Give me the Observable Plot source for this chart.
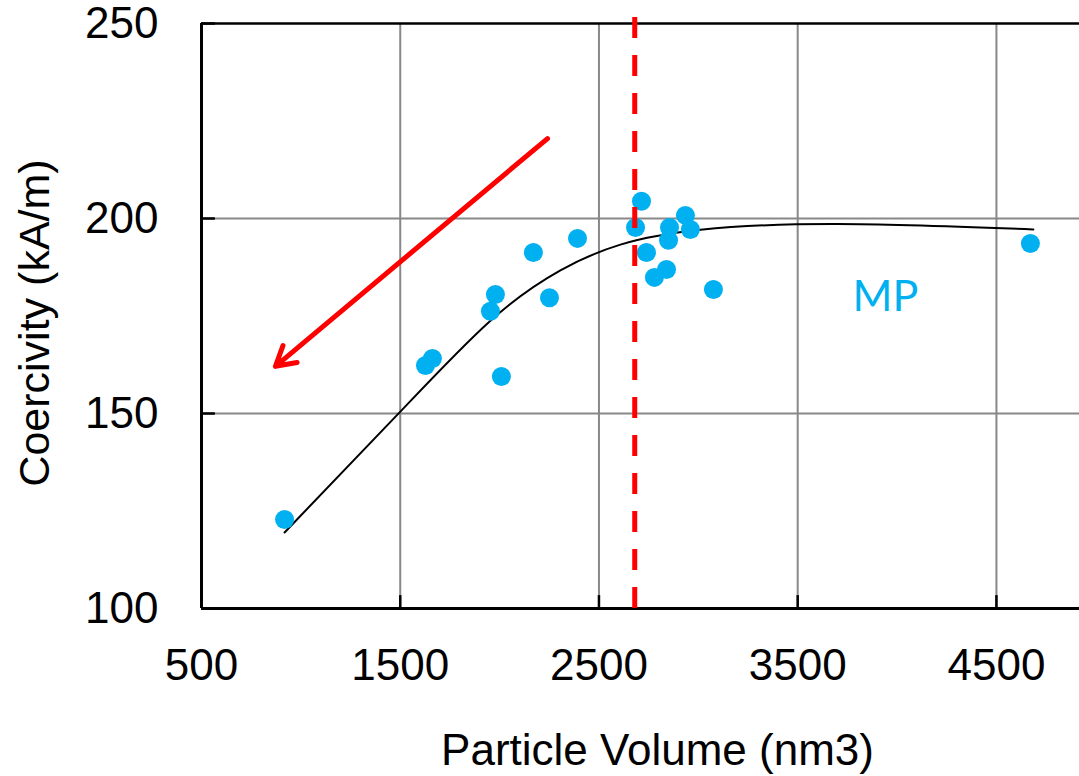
<!DOCTYPE html>
<html>
<head>
<meta charset="utf-8">
<script src="https://cdn.jsdelivr.net/npm/d3@7"></script>
<script src="https://cdn.jsdelivr.net/npm/@observablehq/plot@0.6"></script>
<style>
  html, body { margin: 0; padding: 0; background: #fff; }
</style>
</head>
<body>
<div id="chart"></div>
<script>
// Measured points (Particle Volume nm3, Coercivity kA/m)
const volume = [918, 1627, 1662, 1954, 1979, 2009, 2170, 2251, 2392, 2714, 2684, 2739, 2855, 2850, 2935, 2960, 2779, 2840, 3076, 4671];
const coercivity = [122.8, 162.3, 164.1, 176.2, 180.5, 159.5, 191.3, 179.7, 194.9, 204.4, 197.7, 191.3, 197.7, 194.4, 200.8, 197.2, 184.9, 186.9, 181.8, 193.6];

// Trend curve
const fitVolume = [918, 1486, 1954, 2306, 2608, 3011, 3700, 4686];
const fitCoercivity = [119.5, 149.7, 173.8, 186.7, 193.3, 197.1, 198.6, 197.2];

// Tick values
const xTicks = [500, 1500, 2500, 3500, 4500];
const yTicks = [100, 150, 200, 250];
const xGrid = [1500, 2500, 3500, 4500];
const yGrid = [150, 200];

// Annotations
const thresholdVolume = [2680];
const arrowStart = {x: 2241, y: 220.5};
const arrowEnd = {x: 872, y: 162.1};
const labelMP = [{x: 3941, y: 179.7, text: "MP"}];

const points = volume.map((v, i) => ({v, c: coercivity[i]}));
const fit = fitVolume.map((v, i) => ({v, c: fitCoercivity[i]}));

const font = "'Liberation Sans', Arial, sans-serif";

const chart = Plot.plot({
  width: 1079,
  height: 776,
  marginLeft: 201,
  marginRight: 0,
  marginTop: 23,
  marginBottom: 168,
  style: {fontFamily: font, background: "#fff", color: "#000"},
  x: {domain: [500, 4918]},
  y: {domain: [100, 250]},
  marks: [
    Plot.ruleX(xGrid, {stroke: "#888", strokeWidth: 2}),
    Plot.ruleY(yGrid, {stroke: "#888", strokeWidth: 2}),
    Plot.ruleY(yTicks.slice(1), {x1: 500, x2: 570, stroke: "#000", strokeWidth: 2.5}),
    Plot.ruleX(xTicks.slice(1), {y1: 100, y2: 103.3, stroke: "#000", strokeWidth: 2.5}),
    Plot.ruleY([250], {stroke: "#000", strokeWidth: 2.5}),
    Plot.ruleY([100], {stroke: "#000", strokeWidth: 3}),
    Plot.ruleX([500], {stroke: "#000", strokeWidth: 3}),
    Plot.axisX({ticks: xTicks, tickSize: 0, tickPadding: 40, fontSize: 44, tickFormat: d => String(d), label: null}),
    Plot.axisY({ticks: yTicks, tickSize: 0, tickPadding: 43, fontSize: 44, tickFormat: d => String(d), label: null}),
    Plot.line(fit, {x: "v", y: "c", curve: "natural", stroke: "#000", strokeWidth: 2}),
    Plot.dot(points, {x: "v", y: "c", r: 9.5, fill: "#00B0F0"}),
    Plot.ruleX(thresholdVolume, {stroke: "#FF0000", strokeWidth: 5, strokeDasharray: "21,17", insetTop: -6, insetBottom: -2}),
    Plot.arrow([{}], {x1: () => arrowStart.x, y1: () => arrowStart.y, x2: () => arrowEnd.x, y2: () => arrowEnd.y,
      stroke: "#FF0000", strokeWidth: 5, headLength: 6.6, headAngle: 60, bend: 0}),
    Plot.text(labelMP, {x: "x", y: "y", text: "text", fill: "#00B0F0", fontSize: 43, fontFamily: "Lato, 'Open Sans', sans-serif"}),
    Plot.text(["Particle Volume (nm3)"], {frameAnchor: "bottom", textAnchor: "middle", dx: 17, dy: 142, fontSize: 44, fill: "#000", lineAnchor: "middle"}),
    Plot.text(["Coercivity (kA/m)"], {frameAnchor: "left", textAnchor: "middle", dx: -166, dy: 7, rotate: -90, fontSize: 43, fill: "#000", lineAnchor: "middle"})
  ]
});
document.getElementById("chart").appendChild(chart);
</script>
</body>
</html>
